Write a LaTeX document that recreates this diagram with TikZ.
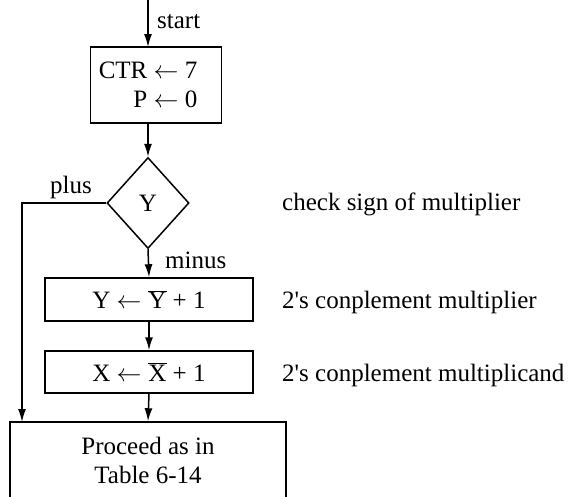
\documentclass[tikz,border=0pt]{standalone}
\usepackage{fontspec}
\setmainfont{Liberation Serif}
\usetikzlibrary{shapes.geometric,arrows.meta}
\begin{document}
\begin{tikzpicture}[x=1pt,y=-1pt,
  every node/.style={font=\fontsize{25}{29}\selectfont, inner sep=0pt},
  box/.style={draw, line width=1.5pt, rectangle},
  dia/.style={draw, line width=1.5pt, diamond, minimum width=82pt, minimum height=91pt},
  flow/.style={line width=1.5pt, -{Latex[length=13pt,width=8pt,fill=black]}},
  lbl/.style={anchor=base west}]
\clip (0,0) rectangle (575,496);
\fill[white] (0,0) rectangle (575,496);
\coordinate (s) at (148,-2);
\node[box, minimum width=131pt, minimum height=76pt] (init) at (156,85) {};
\node[align=right] (inittxt) at (148,85) {CTR $\leftarrow$ 7\\ P $\leftarrow$ 0};
\node[dia] (dec) at (148,203) {Y};
\node[box, minimum width=208pt, minimum height=43pt] (cy) at (149,299.5) {Y $\leftarrow\overline{\hbox{Y}}$ + 1};
\node[box, minimum width=208pt, minimum height=42pt] (cx) at (149,372) {X $\leftarrow\overline{\hbox{X}}$ + 1};
\node[box, minimum width=276pt, minimum height=100pt] (pr) at (148,472) {};
\node[align=center] (prtxt) at (148,460) {Proceed as in\\ Table 6-14};
\coordinate (corner) at (22,203);
\coordinate (prin) at (22,422);
\draw[flow] (s) -- (148,47);
\draw[flow] (148,123) -- (dec.north);
\draw[flow] (dec.south) -- (cy.north);
\draw[flow] (cy.south) -- (cx.north);
\draw[flow] (cx.south) -- (pr.north);
\draw[flow] (dec.west) -- (corner) -- (prin);
\node[lbl] (lstart) at (157,28) {start};
\node[lbl] (lplus) at (50,193) {plus};
\node[lbl] (lminus) at (165,268) {minus};
\node[lbl] (c1) at (282,210) {check sign of multiplier};
\node[lbl] (c2) at (282,308) {2\textquotesingle s conplement multiplier};
\node[lbl] (c3) at (282,381) {2\textquotesingle s conplement multiplicand};
\end{tikzpicture}
\end{document}
